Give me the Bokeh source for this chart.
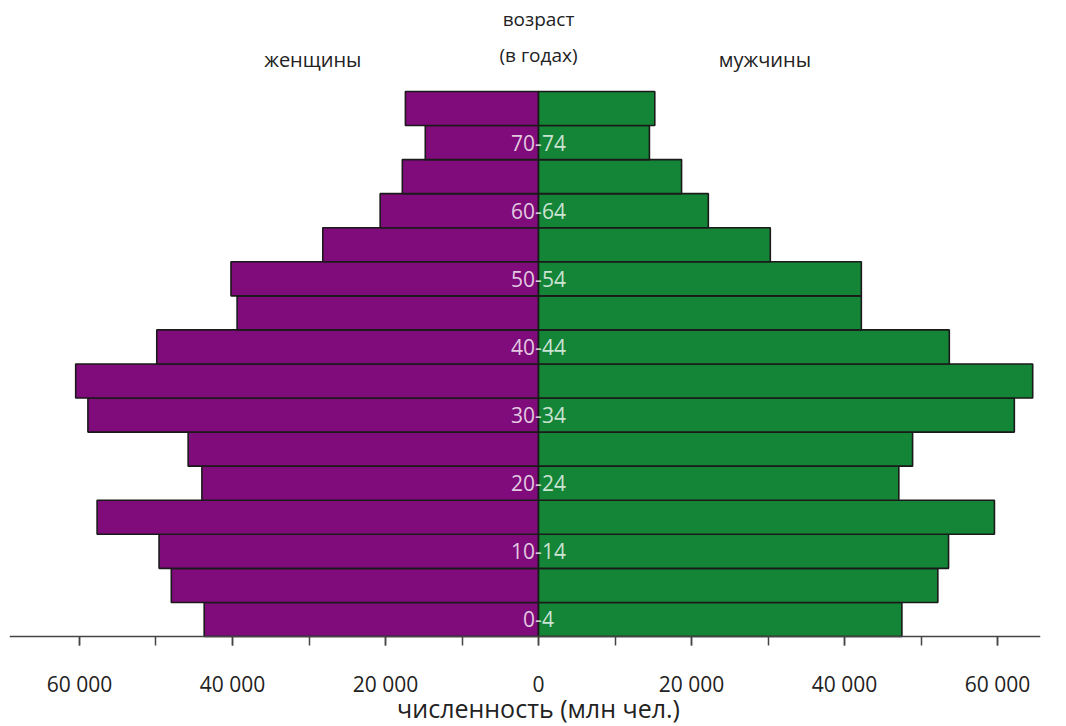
from bokeh.plotting import figure
from bokeh.models import FixedTicker, Range1d, ColumnDataSource
from bokeh.core.properties import value
from bokeh.embed import file_html
from bokeh.resources import INLINE

age_groups = ["0-4", "5-9", "10-14", "15-19", "20-24", "25-29", "30-34", "35-39",
              "40-44", "45-49", "50-54", "55-59", "60-64", "65-69", "70-74", "75+"]
women = [43700, 48000, 49600, 57700, 44000, 45800, 58900, 60500,
         49900, 39400, 40200, 28200, 20700, 17800, 14800, 17400]
men = [47500, 52200, 53600, 59600, 47100, 48900, 62200, 64600,
       53700, 42200, 42200, 30300, 22200, 18700, 14500, 15200]
shown_labels = ["0-4", "10-14", "20-24", "30-34", "40-44", "50-54", "60-64", "70-74"]
tick_values = [-60000, -40000, -20000, 0, 20000, 40000, 60000]
minor_tick_values = list(range(-60000, 60001, 10000))

PURPLE = "#800b7b"
GREEN = "#148436"
FONT = "Open Sans"

rows = list(range(len(age_groups)))
src = ColumnDataSource(dict(
    y=rows,
    w_left=[-v for v in women],
    zero=[0] * len(rows),
    m_right=men,
    lab=[a if a in shown_labels else "" for a in age_groups],
))

p = figure(width=1050, height=726,
           x_range=Range1d(-69150, 65620), y_range=Range1d(-3.142, 18.17),
           output_backend="svg", toolbar_location=None,
           y_axis_location=None,
           min_border_left=9, min_border_right=10, min_border_top=0,
           min_border_bottom=0)
p.outline_line_color = None
p.xgrid.visible = False
p.ygrid.visible = False
p.background_fill_color = "white"
p.border_fill_color = "white"

p.hbar(y="y", left="w_left", right="zero", height=1, source=src,
       fill_color=PURPLE, line_color="#1a1a1a", line_width=1.6)
p.hbar(y="y", left="zero", right="m_right", height=1, source=src,
       fill_color=GREEN, line_color="#1a1a1a", line_width=1.6)

p.text(x=0, y="y", text="lab", source=src, text_align="center",
       text_baseline="middle", text_color="white", text_alpha=0.78,
       text_font=value(FONT), text_font_size="21px")

# headings
p.text(x=[0], y=[17.64], text=["возраст"], text_align="center",
       text_baseline="middle", text_color="#222222",
       text_font=value(FONT), text_font_size="19px")
p.text(x=[0], y=[16.56], text=["(в годах)"], text_align="center",
       text_baseline="middle", text_color="#222222",
       text_font=value(FONT), text_font_size="19px")
p.text(x=[-29500, 29600], y=[16.44, 16.44], text=["женщины", "мужчины"],
       text_align="center", text_baseline="middle", text_color="#222222",
       text_font=value(FONT), text_font_size="20px")

# x axis title, just below the tick labels
p.text(x=[0], y=[-2.6], text=["численность (млн чел.)"], text_align="center",
       text_baseline="middle", text_color="#222222",
       text_font=value(FONT), text_font_size="25px")

ax = p.xaxis[0]
ax.fixed_location = -0.5
ax.ticker = FixedTicker(ticks=tick_values, minor_ticks=minor_tick_values)
ax.major_label_overrides = {t: f"{abs(t):,}".replace(",", " ") for t in tick_values}
ax.major_tick_out = 9
ax.major_tick_in = 0
ax.minor_tick_out = 9
ax.minor_tick_in = 0
ax.axis_line_width = 1.5
ax.axis_line_color = "#444444"
ax.major_tick_line_color = "#444444"
ax.minor_tick_line_color = "#444444"
ax.major_tick_line_width = 1.5
ax.minor_tick_line_width = 1.5
ax.major_label_text_font = FONT
ax.major_label_text_font_size = "21px"
ax.major_label_text_color = "#222222"
ax.major_label_standoff = 25

open("out.html", "w").write(file_html(p, INLINE))
